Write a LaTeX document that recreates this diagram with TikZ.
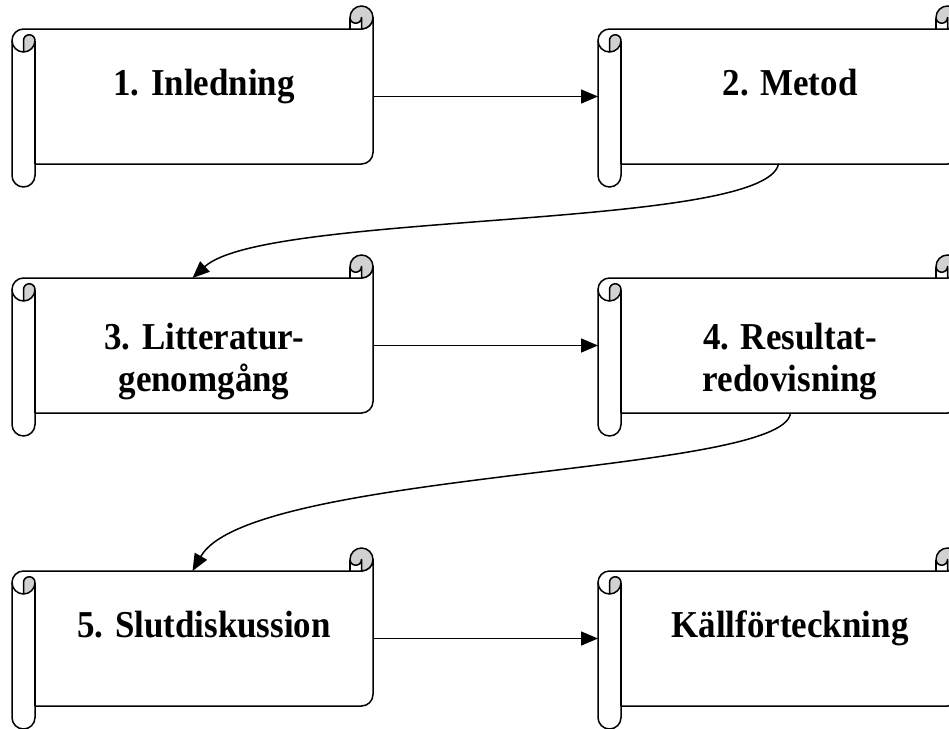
\documentclass[tikz,border=0pt]{standalone}
\usepackage{fontspec}
\newfontfamily\scrollfont[FakeStretch=0.92]{Liberation Serif}
\usetikzlibrary{arrows.meta,positioning}
\definecolor{curl}{gray}{0.82}
\tikzstyle{scrollline} = [line width=1.5pt, line join=round]
\tikzstyle{scrollbody} = [rectangle, minimum width=361pt, minimum height=135pt, inner sep=0pt, outer sep=0pt]
\tikzstyle{scrolltext} = [font=\scrollfont\bfseries\fontsize{38}{42}\selectfont, align=center, inner sep=0pt]
\tikzstyle{flow} = [line width=1.5pt, -{Triangle[length=17pt,width=14pt]}]
% scroll outline round a body node
\newcommand{\scrollshape}[1]{%
  \begin{scope}[shift={(#1.north west)}]
    \draw[scrollline, fill=white] (0,-11.5) arc[start angle=180,end angle=90,radius=11.5pt]
      -- (349.5,0) arc[start angle=-90,end angle=0,radius=11.5pt]
      -- (361,-123.5) arc[start angle=0,end angle=-90,radius=11.5pt]
      -- (23,-135) -- (23,-146.5) arc[start angle=0,end angle=-180,radius=11.5pt] -- cycle;
    \draw[scrollline, fill=curl] (349.5,0) arc[start angle=-90,end angle=180,radius=11.5pt]
      arc[start angle=180,end angle=360,radius=5.75pt] -- cycle;
    \draw[scrollline] (338,11.5) -- (338,0);
    \draw[scrollline, fill=curl] (11.5,-23) arc[start angle=-90,end angle=0,radius=11.5pt]
      arc[start angle=0,end angle=180,radius=5.75pt] -- cycle;
    \draw[scrollline] (0,-11.5) arc[start angle=180,end angle=270,radius=11.5pt];
    \draw[scrollline] (23,-11.5) -- (23,-135);
  \end{scope}}

\begin{document}
\begin{tikzpicture}[x=1pt,y=1pt]
  \useasboundingbox (0,0) rectangle (949,-728);

  \node[scrollbody, anchor=north west] (inledning) at (12,-29) {};
  \node[scrollbody, right=225pt of inledning] (metod) {};
  \node[scrollbody, below=114pt of inledning] (litteratur) {};
  \node[scrollbody, right=225pt of litteratur] (resultat) {};
  \node[scrollbody, below=158pt of litteratur] (slutdisk) {};
  \node[scrollbody, right=225pt of slutdisk] (kallor) {};

  \foreach \s in {inledning,metod,litteratur,resultat,slutdisk,kallor}
    \scrollshape{\s};

  \node[scrolltext, anchor=base] (t1) at ([xshift=11.5pt,yshift=-66pt]inledning.north) {1. Inledning};
  \node[scrolltext, anchor=base] (t2) at ([xshift=11.5pt,yshift=-66pt]metod.north) {2. Metod};
  \node[scrolltext] (t3) at ([xshift=11.5pt,yshift=-84pt]litteratur.north) {3. Litteratur-\\genomgång};
  \node[scrolltext] (t4) at ([xshift=11.5pt,yshift=-84pt]resultat.north) {4. Resultat-\\redovisning};
  \node[scrolltext, anchor=base] (t5) at ([xshift=11.5pt,yshift=-66pt]slutdisk.north) {5. Slutdiskussion};
  \node[scrolltext, anchor=base] (t6) at ([xshift=11.5pt,yshift=-66pt]kallor.north) {Källförteckning};

  \draw[flow] (inledning.east) -- (metod.west);
  \draw[flow] (metod.south) .. controls +(-13.5,-66) and +(72.5,67) .. (litteratur.north);
  \draw[flow] (litteratur.east) -- (resultat.west);
  \draw[flow] ([xshift=12pt]resultat.south) .. controls +(-6,-62) and +(57.5,101) .. (slutdisk.north);
  \draw[flow] (slutdisk.east) -- (kallor.west);
\end{tikzpicture}
\end{document}
